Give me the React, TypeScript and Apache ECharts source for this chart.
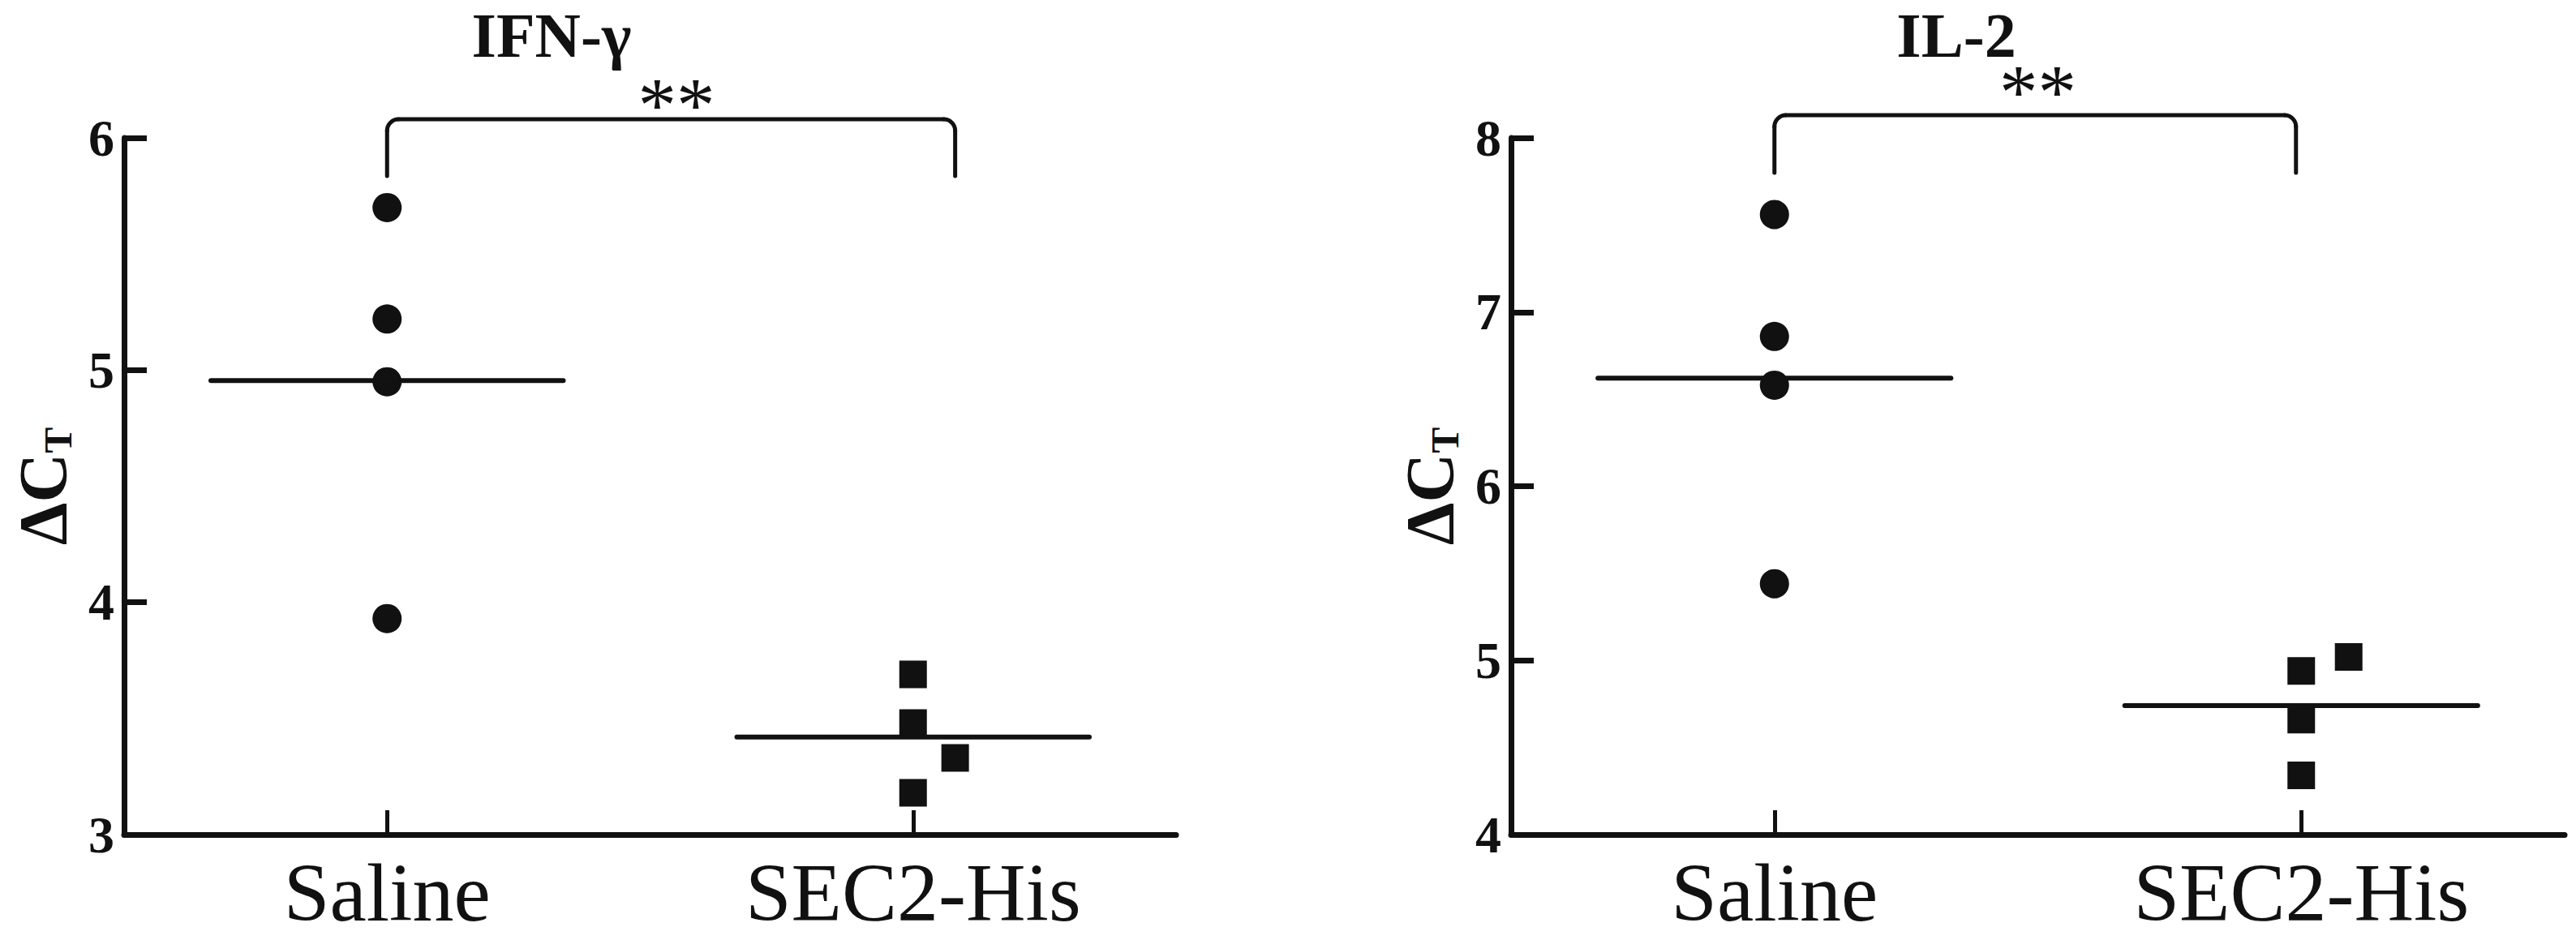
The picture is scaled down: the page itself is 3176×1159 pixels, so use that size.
import React, { useEffect, useRef } from 'react';
import * as echarts from 'echarts';

// ---------- data ----------
const categories = ['Saline', 'SEC2-His'];
const significance = '**';

// IFN-γ panel
const ifnTitle = 'IFN-γ';
const ifnYTicks = [3, 4, 5, 6];
const ifnSalineX = [0, 0, 0, 0];
const ifnSalineValues = [5.7, 5.22, 4.95, 3.93];
const ifnSecX = [1, 1, 1.08, 1];
const ifnSecValues = [3.69, 3.48, 3.33, 3.18];
const ifnMedians = [4.955, 3.42];
// bracket: x-start, x-end, top, bottom, star x, star y
const ifnBracket = [0, 1.08, 6.08, 5.836, 0.55, 6.14];

// IL-2 panel
const il2Title = 'IL-2';
const il2YTicks = [4, 5, 6, 7, 8];
const il2SalineX = [0, 0, 0, 0];
const il2SalineValues = [7.56, 6.86, 6.58, 5.44];
const il2SecX = [1.09, 1, 1, 1];
const il2SecValues = [5.02, 4.94, 4.66, 4.34];
const il2Medians = [6.62, 4.74];
const il2Bracket = [0, 0.99, 8.13, 7.8, 0.5, 8.26];

// ---------- styles ----------
const INK = '#111';
const SERIF = '"Liberation Serif", "Times New Roman", serif';

const panels = [
  {
    title: ifnTitle, titleX: 680, yTicks: ifnYTicks,
    salX: ifnSalineX, sal: ifnSalineValues, secX: ifnSecX, sec: ifnSecValues,
    med: ifnMedians, bracket: ifnBracket,
    grid: { left: 153, top: 170, width: 1297, height: 859 },
  },
  {
    title: il2Title, titleX: 2412, yTicks: il2YTicks,
    salX: il2SalineX, sal: il2SalineValues, secX: il2SecX, sec: il2SecValues,
    med: il2Medians, bracket: il2Bracket,
    grid: { left: 1863, top: 170, width: 1299, height: 859 },
  },
];

function buildOption() {
  const grid: any[] = [];
  const xAxis: any[] = [];
  const yAxis: any[] = [];
  const series: any[] = [];
  const graphic: any[] = [];

  panels.forEach((p, i) => {
    grid.push({ ...p.grid, containLabel: false });
    // category axis (ticks + labels)
    xAxis.push({
      gridIndex: i,
      type: 'category',
      data: categories,
      boundaryGap: true,
      axisLine: { show: true, onZero: false, lineStyle: { color: INK, width: 7, cap: 'round' } },
      axisTick: { show: true, inside: true, alignWithLabel: true, length: 30, lineStyle: { color: INK, width: 5 } },
      axisLabel: { show: true, color: INK, fontFamily: SERIF, fontSize: 102, lineHeight: 102, margin: 20 },
      splitLine: { show: false },
    });
    // hidden value axis for positioning points
    xAxis.push({
      gridIndex: i,
      type: 'value',
      min: -0.5,
      max: 1.5,
      show: false,
    });
    yAxis.push({
      gridIndex: i,
      type: 'value',
      min: p.yTicks[0],
      max: p.yTicks[p.yTicks.length - 1],
      interval: 1,
      axisLine: { show: true, onZero: false, lineStyle: { color: INK, width: 7 } },
      axisTick: { show: true, inside: true, length: 28, lineStyle: { color: INK, width: 7 } },
      axisLabel: { color: INK, fontFamily: SERIF, fontWeight: 'bold', fontSize: 64, margin: 12 },
      splitLine: { show: false },
      name: '{a|ΔC}{b|T}',
      nameLocation: 'middle',
      nameGap: 58,
      nameTextStyle: {
        rich: {
          a: { fontFamily: SERIF, fontWeight: 'bold', fontSize: 84, lineHeight: 84, color: INK, verticalAlign: 'bottom' },
          b: { fontFamily: SERIF, fontWeight: 'bold', fontSize: 48, lineHeight: 48, color: INK, verticalAlign: 'bottom', padding: [38, 0, 0, 0] },
        },
      },
    });

    const xi = i * 2 + 1;
    series.push({
      type: 'scatter',
      xAxisIndex: xi,
      yAxisIndex: i,
      symbol: 'circle',
      symbolSize: 36,
      itemStyle: { color: INK, opacity: 1 },
      data: p.sal.map((v, k) => [p.salX[k], v]),
      z: 3,
    });
    series.push({
      type: 'scatter',
      xAxisIndex: xi,
      yAxisIndex: i,
      symbol: 'rect',
      symbolSize: 34,
      itemStyle: { color: INK, opacity: 1 },
      data: p.sec.map((v, k) => [p.secX[k], v]),
      z: 3,
    });
    // median lines
    series.push({
      type: 'custom',
      xAxisIndex: xi,
      yAxisIndex: i,
      data: p.med.map((m, k) => [k, m]),
      z: 4,
      renderItem: (params: any, api: any) => {
        const x = api.value(0);
        const m = api.value(1);
        const a = api.coord([x - 0.335, m]);
        const b = api.coord([x + 0.335, m]);
        return {
          type: 'line',
          shape: { x1: a[0], y1: a[1], x2: b[0], y2: b[1] },
          style: { stroke: INK, lineWidth: 6, lineCap: 'round' },
        };
      },
    });
    // significance bracket
    series.push({
      type: 'custom',
      xAxisIndex: xi,
      yAxisIndex: i,
      clip: false,
      data: [p.bracket],
      z: 5,
      renderItem: (params: any, api: any) => {
        const x0 = api.value(0), x1 = api.value(1), top = api.value(2), bot = api.value(3);
        const sx = api.value(4), sy = api.value(5);
        const lb = api.coord([x0, bot]);
        const lt = api.coord([x0, top]);
        const rt = api.coord([x1, top]);
        const rb = api.coord([x1, bot]);
        const st = api.coord([sx, sy]);
        const r = 14;
        const ls = { stroke: INK, lineWidth: 5, fill: 'none', lineCap: 'round' };
        return {
          type: 'group',
          children: [
            { type: 'line', shape: { x1: lb[0], y1: lb[1], x2: lt[0], y2: lt[1] + r }, style: ls },
            { type: 'arc', shape: { cx: lt[0] + r, cy: lt[1] + r, r, startAngle: Math.PI, endAngle: Math.PI * 1.5, clockwise: true }, style: ls },
            { type: 'line', shape: { x1: lt[0] + r, y1: lt[1], x2: rt[0] - r, y2: rt[1] }, style: ls },
            { type: 'arc', shape: { cx: rt[0] - r, cy: rt[1] + r, r, startAngle: Math.PI * 1.5, endAngle: Math.PI * 2, clockwise: true }, style: ls },
            { type: 'line', shape: { x1: rt[0], y1: rt[1] + r, x2: rb[0], y2: rb[1] }, style: ls },
            {
              type: 'text',
              x: st[0],
              y: st[1],
              style: { text: significance, fill: INK, font: `normal 95px ${SERIF}`, align: 'center', verticalAlign: 'middle' },
            },
          ],
        };
      },
    });

    graphic.push({
      type: 'text',
      x: p.titleX,
      y: 43,
      style: {
        text: p.title,
        fill: INK,
        font: `bold 78px ${SERIF}`,
        align: 'center',
        verticalAlign: 'middle',
      },
    });
  });

  return {
    animation: false,
    backgroundColor: '#fff',
    grid,
    xAxis,
    yAxis,
    series,
    graphic,
  };
}

export default function App() {
  const ref = useRef<HTMLDivElement>(null);
  useEffect(() => {
    if (!ref.current) return;
    const chart = echarts.init(ref.current, undefined, { renderer: 'svg' });
    chart.setOption(buildOption() as any);
    return () => chart.dispose();
  }, []);
  return (
    <div
      ref={ref}
      style={{ position: 'absolute', left: 0, top: 0, width: 3176, height: 1159, background: '#fff' }}
    />
  );
}
